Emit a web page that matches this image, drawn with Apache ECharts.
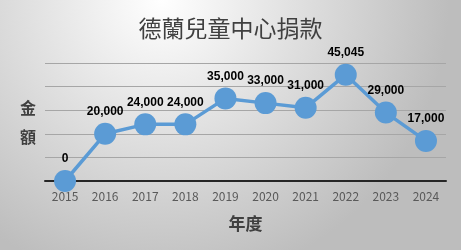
<!DOCTYPE html>
<html><head><meta charset="utf-8">
<script src="https://cdn.jsdelivr.net/npm/echarts@6/dist/echarts.min.js"></script>
<style>html,body{margin:0;padding:0;}#c{width:461px;height:250px;}</style>
</head><body><div id="c"></div>
<script>
const title = '德蘭兒童中心捐款';
const years = ['2015','2016','2017','2018','2019','2020','2021','2022','2023','2024'];
const donations = [0, 20000, 24000, 24000, 35000, 33000, 31000, 45045, 29000, 17000];
const yAxisName = '金\n額';
const xAxisName = '年度';

const chart = echarts.init(document.getElementById('c'));
const font = '"Noto Sans CJK TC", "Noto Sans", sans-serif';
chart.setOption({
  backgroundColor: {
    type: 'radial', x: 0.35, y: 0.0, r: 1.15,
    colorStops: [{offset: 0, color: '#ffffff'}, {offset: 1, color: '#bdbdbd'}]
  },
  title: {
    text: title, left: 'center', top: 12,
    textStyle: {fontFamily: font, fontSize: 23, fontWeight: 'normal', color: '#404040'}
  },
  grid: {left: 45, right: 15, top: 63, bottom: 69},
  xAxis: {
    type: 'category', data: years, boundaryGap: true,
    axisLine: {lineStyle: {color: '#262626', width: 2}},
    axisTick: {show: false},
    axisLabel: {color: '#595959', fontSize: 12, fontFamily: font, margin: 9},
    name: xAxisName, nameLocation: 'middle', nameGap: 34,
    nameTextStyle: {fontFamily: font, fontSize: 17, fontWeight: 'bold', color: '#404040'}
  },
  yAxis: {
    type: 'value', min: 0, max: 50000, interval: 10000,
    axisLabel: {show: false}, axisLine: {show: false}, axisTick: {show: false},
    splitLine: {lineStyle: {color: '#a6a6a6', width: 1}},
    name: yAxisName, nameLocation: 'middle', nameGap: 9, nameRotate: 0,
    nameTextStyle: {fontFamily: font, fontSize: 16, fontWeight: 'bold', color: '#404040', lineHeight: 29, padding: [0,0,20,0]}
  },
  series: [{
    type: 'line', data: donations,
    symbol: 'circle', symbolSize: 22,
    lineStyle: {color: '#5b9bd5', width: 3.5},
    itemStyle: {color: '#5b9bd5'},
    label: {
      show: true, position: 'top', distance: 5,
      fontFamily: '"Liberation Sans", Arial, sans-serif', fontWeight: 'bold', fontSize: 12, color: '#000000',
      formatter: p => p.value.toLocaleString('en-US')
    },
    animation: false
  }],
  animation: false
});
</script></body></html>
